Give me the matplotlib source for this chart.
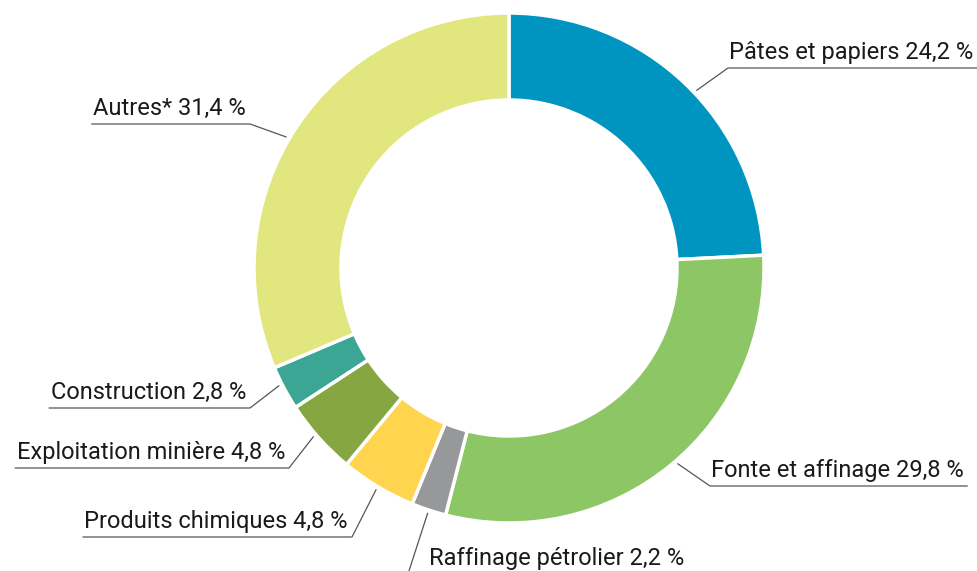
import numpy as np
import matplotlib.pyplot as plt

# donnees
secteurs = ["Pâtes et papiers", "Fonte et affinage", "Raffinage pétrolier",
            "Produits chimiques", "Exploitation minière", "Construction", "Autres*"]
parts = [24.2, 29.8, 2.2, 4.8, 4.8, 2.8, 31.4]
couleurs = ["#0094C0", "#8CC665", "#97989A", "#FFD54F", "#86A642", "#3AA693", "#E1E77E"]

W, H = 977, 571
cx, cy, R = 509, 268, 255   # pixel coords, y from top

# elbow of each leader line (x, y from top), side, angle shift, text shift
coudes = [(728, 68, "r", -3, 0), (710, 486, "r", 1.5, 0), (408, 574, "r", 0, 20),
          (352, 537, "l", 0, 0), (289, 468, "l", -1, 0), (250, 408, "l", -1, 0),
          (250, 124, "l", 3, 0)]

fig = plt.figure(figsize=(W / 100, H / 100), dpi=100)
ax = fig.add_axes([0, 0, 1, 1])

wedges, _ = ax.pie(parts, colors=couleurs, startangle=90, counterclock=False,
                   radius=R, center=(cx, H - cy),
                   wedgeprops=dict(width=87, edgecolor="white", linewidth=2.5))
ax.set_xlim(0, W)
ax.set_ylim(0, H)
ax.set_aspect("equal", adjustable="box")
ax.axis("off")

fig.canvas.draw()
rend = fig.canvas.get_renderer()

for w, nom, v, (ex, ey, side, da, dx) in zip(wedges, secteurs, parts, coudes):
    a = np.deg2rad((w.theta1 + w.theta2) / 2 + da)
    px = cx + 258 * np.cos(a)
    py = cy - 258 * np.sin(a)
    label = nom + " " + ("%.1f" % v).replace(".", ",") + " %"
    if side == "r":
        t = ax.text(ex + 1 + dx, H - ey + 9, label, ha="left", va="baseline",
                    fontsize=17, family="Roboto", color="#1a1a1a")
    else:
        t = ax.text(ex - 4, H - ey + 9, label, ha="right", va="baseline",
                    fontsize=17, family="Roboto", color="#1a1a1a")
    bb = t.get_window_extent(rend)
    if side == "r":
        x2 = min(bb.x1 + 4, W)
        xs = [px, ex, x2]
    else:
        xs = [px, ex, bb.x0 - 2]
    ax.plot(xs, [H - py, H - ey, H - ey], color="#555555", lw=0.9,
            solid_capstyle="butt")

fig.savefig("out.png", dpi=100)
